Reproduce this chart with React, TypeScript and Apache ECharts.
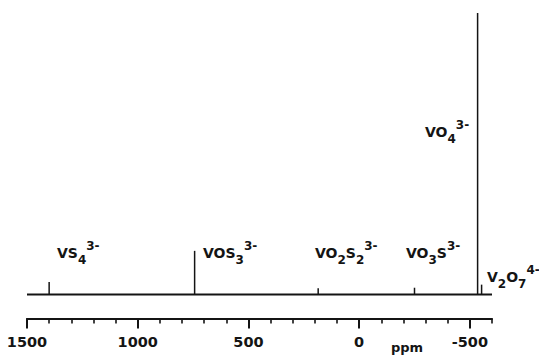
import React, { useEffect, useRef } from 'react';
import * as echarts from 'echarts';

// 51V chemical shifts (ppm) and relative peak heights
const peakPpm = [1400, 743, 185, -250, -535, -553];
const peakHeight = [4.4, 15.5, 2.2, 2.4, 100, 3.5];
const peakLabels = [
  '{m|VS}{b|4}{p|3-}',
  '{m|VOS}{b|3}{p|3-}',
  '{m|VO}{b|2}{m|S}{b|2}{p|3-}',
  '{m|VO}{b|3}{m|S}{p|3-}',
  '{m|VO}{b|4}{p|3-}',
  '{m|V}{b|2}{m|O}{b|7}{p|4-}',
];
const majorTicks = [1500, 1000, 500, 0, -500];
const minorTicks = [1500, 1400, 1300, 1200, 1100, 1000, 900, 800, 700, 600, 500, 400, 300, 200, 100, 0, -100, -200, -300, -400, -500, -600];
const axisMin = -600;
const axisMax = 1500;
const axisTitle = 'ppm';

// label placement (pixels)
const labelLayout = [
  { x: 57, y: 240 },
  { x: 203, y: 240 },
  { x: 315, y: 240 },
  { x: 406, y: 240 },
  { x: 425, y: 119 },
  { x: 487, y: 264 },
];

const INK = '#141414';
const FONT = 'DejaVu Sans';

export default function App() {
  const ref = useRef<HTMLDivElement>(null);
  useEffect(() => {
    const chart = echarts.init(ref.current!, null, { renderer: 'svg' });
    const rich = {
      m: { fontSize: 14, fontWeight: 'bold', fontFamily: FONT, fill: INK, lineHeight: 26, verticalAlign: 'middle' },
      b: { fontSize: 12, fontWeight: 'bold', fontFamily: FONT, fill: INK, lineHeight: 18, verticalAlign: 'bottom' },
      p: { fontSize: 12, fontWeight: 'bold', fontFamily: FONT, fill: INK, lineHeight: 12, verticalAlign: 'top' },
    };
    chart.setOption({
      animation: false,
      backgroundColor: '#ffffff',
      grid: { left: 27, right: 47, top: 13, bottom: 37.5, containLabel: false },
      xAxis: [
        {
          type: 'value', min: axisMin, max: axisMax, inverse: true, position: 'bottom',
          axisLine: { show: true, onZero: false, lineStyle: { color: INK, width: 2 } },
          axisTick: { show: true, customValues: majorTicks, length: 10, lineStyle: { color: INK, width: 2 } },
          axisLabel: { show: true, customValues: majorTicks, margin: 16, color: INK, fontSize: 14.5, fontWeight: 'bold', fontFamily: FONT, formatter: (v: number) => String(v) },
          splitLine: { show: false },
        },
        {
          type: 'value', min: axisMin, max: axisMax, inverse: true, position: 'bottom',
          axisLine: { show: false, onZero: false },
          axisTick: { show: true, customValues: minorTicks, length: 5, lineStyle: { color: INK, width: 1.6 } },
          axisLabel: { show: false },
          splitLine: { show: false },
        },
      ],
      yAxis: { type: 'value', min: -8.53, max: 100, show: false },
      series: [
        {
          type: 'line', xAxisIndex: 0, silent: true, symbol: 'none',
          data: [[axisMax, 0], [axisMin, 0]],
          lineStyle: { color: INK, width: 1.8 },
        },
        {
          type: 'custom', xAxisIndex: 0, silent: true,
          data: peakPpm.map((p, i) => [p, peakHeight[i]]),
          renderItem: (_params: any, api: any) => {
            const x = api.value(0);
            const h = api.value(1);
            const a = api.coord([x, 0]);
            const b = api.coord([x, h]);
            return {
              type: 'line',
              shape: { x1: a[0], y1: a[1], x2: b[0], y2: b[1] },
              style: { stroke: INK, lineWidth: 1.5 },
            };
          },
        },
      ],
      graphic: [
        ...peakLabels.map((t, i) => ({
          type: 'text',
          x: labelLayout[i].x,
          y: labelLayout[i].y,
          silent: true,
          style: { text: t, rich, fill: INK, font: `bold 14px "${FONT}"` },
        })),
        {
          type: 'text', x: 391, y: 341, silent: true,
          style: { text: axisTitle, fill: INK, font: `bold 13px "${FONT}"` },
        },
      ],
    });
    return () => chart.dispose();
  }, []);
  return (
    <div
      ref={ref}
      style={{ position: 'fixed', left: 0, top: 0, width: 539, height: 356, background: '#fff' }}
    />
  );
}
